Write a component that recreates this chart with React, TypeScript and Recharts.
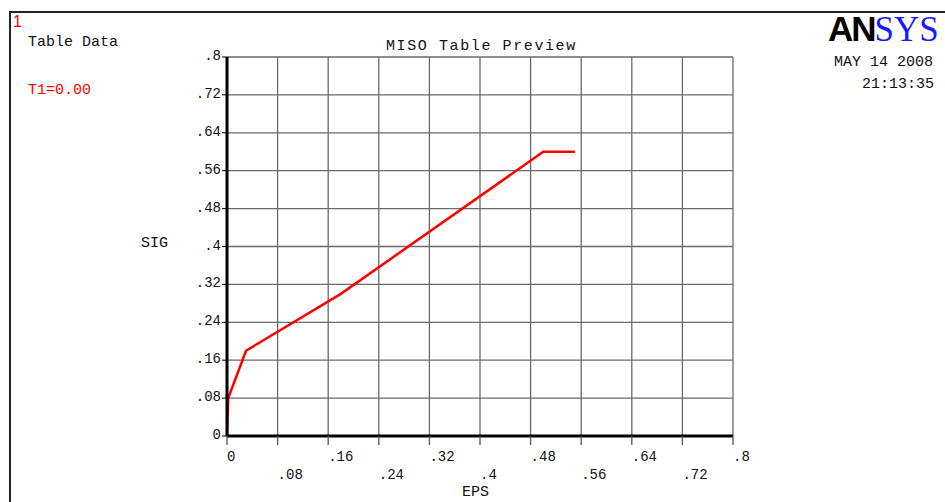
import React from "react";
import { LineChart, Line, XAxis, YAxis, CartesianGrid } from "recharts";

const epsValues = [0, 0.002, 0.03, 0.18, 0.5, 0.55];
const sigValues = [0, 0.08, 0.18, 0.3, 0.6, 0.6];
const axisTicks = [0, 0.08, 0.16, 0.24, 0.32, 0.4, 0.48, 0.56, 0.64, 0.72, 0.8];

const data = epsValues.map((e, i) => ({ eps: e, sig: sigValues[i] }));

const MONO = "'Liberation Mono', 'DejaVu Sans Mono', monospace";

const fmt = (v: number) => {
  if (v === 0) return "0";
  const s = String(Math.round(v * 100) / 100);
  return s.startsWith("0") ? s.slice(1) : s;
};

const XTick = (props: any) => {
  const { x, y, payload } = props;
  const idx = Math.round(payload.value / 0.08);
  const row = idx % 2 === 0 ? 15 : 33;
  return (
    <text x={x} y={y + row} textAnchor="start" fontFamily={MONO} fontSize={14} fill="#111">
      {fmt(payload.value)}
    </text>
  );
};

const YTick = (props: any) => {
  const { x, y, payload } = props;
  return (
    <text x={x - 1} y={y + 3} textAnchor="end" fontFamily={MONO} fontSize={14} fill="#111">
      {fmt(payload.value)}
    </text>
  );
};

const txt = (style: React.CSSProperties): React.CSSProperties => ({
  position: "absolute",
  fontFamily: MONO,
  fontSize: 14,
  color: "#111",
  whiteSpace: "pre",
  lineHeight: 1,
  ...style,
});

export default function App() {
  return (
    <div style={{ position: "absolute", left: 0, top: 0, width: 945, height: 502, background: "#fff", overflow: "hidden" }}>
      <div style={{ position: "absolute", left: 9, top: 11, width: 940, height: 495, borderLeft: "2px solid #222", borderTop: "2px solid #222" }} />
      <LineChart
        width={945}
        height={502}
        data={data}
        margin={{ top: 57, right: 212, bottom: 26, left: 167 }}
        style={{ position: "absolute", left: 0, top: 0 }}
      >
        <CartesianGrid stroke="#6a6a6a" strokeWidth={1.3} />
        <XAxis
          type="number"
          dataKey="eps"
          domain={[0, 0.8]}
          ticks={axisTicks}
          interval={0}
          height={40}
          tick={<XTick />}
          tickSize={9}
          tickMargin={1}
          tickLine={{ stroke: "#555", strokeWidth: 1.3 }}
          axisLine={{ stroke: "#000", strokeWidth: 3 }}
        />
        <YAxis
          type="number"
          dataKey="sig"
          domain={[0, 0.8]}
          ticks={axisTicks}
          interval={0}
          width={60}
          tick={<YTick />}
          tickSize={5}
          tickMargin={0}
          tickLine={{ stroke: "#000", strokeWidth: 1 }}
          axisLine={{ stroke: "#000", strokeWidth: 3 }}
        />
        <Line
          type="linear"
          dataKey="sig"
          stroke="#ff0000"
          strokeWidth={2.5}
          dot={false}
          isAnimationActive={false}
        />
      </LineChart>
      <div style={txt({ left: 13, top: 14, color: "#ff0000", fontFamily: "'Liberation Sans', sans-serif", fontSize: 16 })}>1</div>
      <div style={txt({ left: 28, top: 35, fontSize: 15 })}>Table Data</div>
      <div style={txt({ left: 28, top: 83, fontSize: 15, color: "#ff0000" })}>T1=0.00</div>
      <div style={txt({ left: 386, top: 39, fontSize: 15, letterSpacing: 1.6 })}>MISO Table Preview</div>
      <div style={txt({ left: 141, top: 236, fontSize: 15 })}>SIG</div>
      <div style={txt({ left: 462, top: 485, fontSize: 15 })}>EPS</div>
      <div style={txt({ left: 828, top: 11, fontFamily: "'Liberation Sans', Arial, sans-serif", fontWeight: 900, fontSize: 35, color: "#000", letterSpacing: -2 })}>
        AN<span style={{ fontFamily: "'Liberation Serif', serif", fontWeight: 400, color: "#1a1aff", letterSpacing: 0 }}>SYS</span>
      </div>
      <div style={txt({ left: 834, top: 55, fontSize: 15 })}>MAY 14 2008</div>
      <div style={txt({ left: 862, top: 77, fontSize: 15 })}>21:13:35</div>
    </div>
  );
}
